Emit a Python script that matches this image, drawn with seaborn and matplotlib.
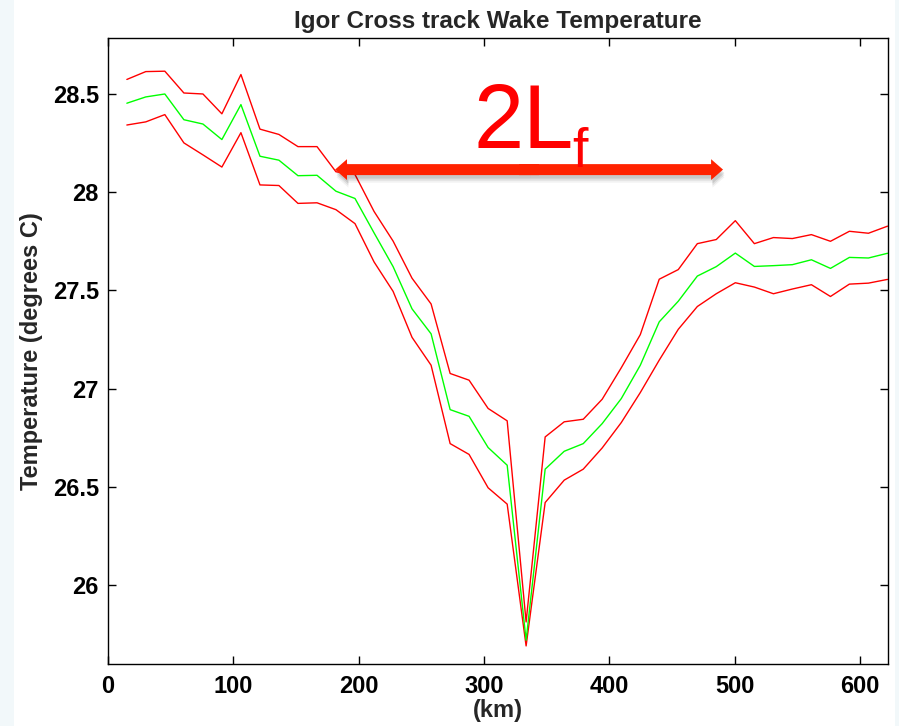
import numpy as np
import pandas as pd
import matplotlib
matplotlib.use("Agg")
import matplotlib.pyplot as plt
import matplotlib.patheffects as pe
from matplotlib.patches import FancyArrowPatch, ArrowStyle, Rectangle
import seaborn as sns

# ---------------- data ----------------
distance_km = [15.2, 30.3, 45.5, 60.7, 75.9, 91.0, 106.2, 121.4, 136.5, 151.7,
               166.9, 182.0, 197.2, 212.4, 227.6, 242.7, 257.9, 273.1, 288.2, 303.4,
               318.6, 333.7, 348.9, 364.1, 379.3, 394.4, 409.6, 424.8, 439.9, 455.1,
               470.3, 485.4, 500.6, 515.8, 531.0, 546.1, 561.3, 576.5, 591.6, 606.8,
               622.0]

mean_temp = [28.453, 28.485, 28.500, 28.369, 28.347, 28.268, 28.446, 28.183, 28.163, 28.084,
             28.086, 28.005, 27.968, 27.793, 27.621, 27.406, 27.279, 26.893, 26.859, 26.700,
             26.610, 25.719, 26.590, 26.681, 26.720, 26.822, 26.949, 27.119, 27.340, 27.445,
             27.573, 27.621, 27.690, 27.622, 27.626, 27.631, 27.656, 27.612, 27.668, 27.665,
             27.689]

upper_temp = [28.574, 28.614, 28.616, 28.505, 28.500, 28.399, 28.599, 28.321, 28.294, 28.232,
              28.232, 28.104, 28.090, 27.902, 27.751, 27.562, 27.431, 27.077, 27.043, 26.899,
              26.836, 25.812, 26.754, 26.831, 26.844, 26.946, 27.106, 27.275, 27.557, 27.606,
              27.738, 27.759, 27.855, 27.738, 27.769, 27.764, 27.784, 27.750, 27.801, 27.791,
              27.827]

lower_temp = [28.342, 28.358, 28.395, 28.251, 28.190, 28.128, 28.303, 28.037, 28.034, 27.943,
              27.946, 27.911, 27.840, 27.645, 27.495, 27.261, 27.119, 26.720, 26.665, 26.495,
              26.412, 25.690, 26.420, 26.534, 26.590, 26.698, 26.827, 26.980, 27.145, 27.302,
              27.418, 27.483, 27.539, 27.517, 27.483, 27.507, 27.529, 27.469, 27.532, 27.537,
              27.556]

series_names = ["upper", "lower", "mean"]
series_colors = {"upper": "#ff0000", "lower": "#ff0000", "mean": "#00ff00"}

x_ticks = [0, 100, 200, 300, 400, 500, 600]
y_ticks = [26, 26.5, 27, 27.5, 28, 28.5]
y_tick_labels = ["26", "26.5", "27", "27.5", "28", "28.5"]

title_text = "Igor Cross track Wake Temperature"
x_label = "(km)"
y_label = "Temperature (degrees C)"
arrow_span_km = [181.3, 490.8]
arrow_level = 28.115

# ---------------- figure ----------------
sns.set_style("ticks")
plt.rcParams["font.family"] = ["Liberation Sans", "DejaVu Sans"]

W, H = 899, 726
fig = plt.figure(figsize=(W / 100, H / 100), dpi=100)
fig.patch.set_facecolor("#f2f8fa")
fig.add_artist(Rectangle((14 / W, 0), (895 - 14) / W, 1, transform=fig.transFigure,
                         facecolor="white", edgecolor="none", zorder=0))

ax = fig.add_axes([107.8 / W, 1 - 664 / H, (887.5 - 107.8) / W, (664 - 38) / H])
ax.set_facecolor("white")

frames = []
for name, vals in zip(series_names, [upper_temp, lower_temp, mean_temp]):
    frames.append(pd.DataFrame({"km": distance_km, "temp": vals, "series": name}))
df = pd.concat(frames, ignore_index=True)

sns.lineplot(data=df, x="km", y="temp", hue="series", hue_order=series_names,
             palette=series_colors, estimator=None, sort=False, legend=False,
             linewidth=1.0, ax=ax)

ax.set_xlim(0, 622)
ax.set_ylim(25.598, 28.785)
ax.set_xticks(x_ticks)
ax.set_xticklabels([str(t) for t in x_ticks])
ax.set_yticks(y_ticks)
ax.set_yticklabels(y_tick_labels)

for s in ax.spines.values():
    s.set_visible(True)
    s.set_color("black")
    s.set_linewidth(1.0)

ax.tick_params(axis="both", direction="in", length=5.5, width=1.0, colors="black",
               top=True, right=True, labelsize=17)
ax.tick_params(axis="x", pad=8)
ax.tick_params(axis="y", pad=6.5)
for lab in ax.get_xticklabels() + ax.get_yticklabels():
    lab.set_fontweight("bold")

ax.set_title(title_text, fontsize=17.5, fontweight="bold", pad=7)
ax.set_xlabel(x_label, fontsize=17, fontweight="bold", labelpad=1)
ax.set_ylabel(y_label, fontsize=17, fontweight="bold", labelpad=7)

# ---------------- 2Lf annotation ----------------
mid = sum(arrow_span_km) / 2
style = ArrowStyle.Simple(head_length=8.6, head_width=15.0, tail_width=7.9)
shadows = [pe.SimplePatchShadow(offset=(1, -2.5), shadow_rgbFace="black", alpha=0.10),
           pe.SimplePatchShadow(offset=(1, -4), shadow_rgbFace="black", alpha=0.08),
           pe.SimplePatchShadow(offset=(1, -5.5), shadow_rgbFace="black", alpha=0.05)]
for tip in arrow_span_km:
    sh = FancyArrowPatch((mid, arrow_level), (tip, arrow_level), arrowstyle=style,
                         mutation_scale=1, shrinkA=0, shrinkB=0, color="#ff2200",
                         lw=0, zorder=5, path_effects=shadows)
    ax.add_patch(sh)
for tip in arrow_span_km:
    start = mid + (8 if tip < mid else -8)
    ar = FancyArrowPatch((start, arrow_level), (tip, arrow_level), arrowstyle=style,
                         mutation_scale=1, shrinkA=0, shrinkB=0, color="#ff2200",
                         lw=0, zorder=6)
    ax.add_patch(ar)

fig.text(473 / W, 1 - 148 / H, "2L", fontsize=65, color="#ff0000",
         ha="left", va="baseline")
fig.text(572 / W, 1 - 167 / H, "f", fontsize=40, color="#ff0000",
         ha="left", va="baseline")

fig.savefig("out.png", dpi=100, facecolor=fig.get_facecolor())
